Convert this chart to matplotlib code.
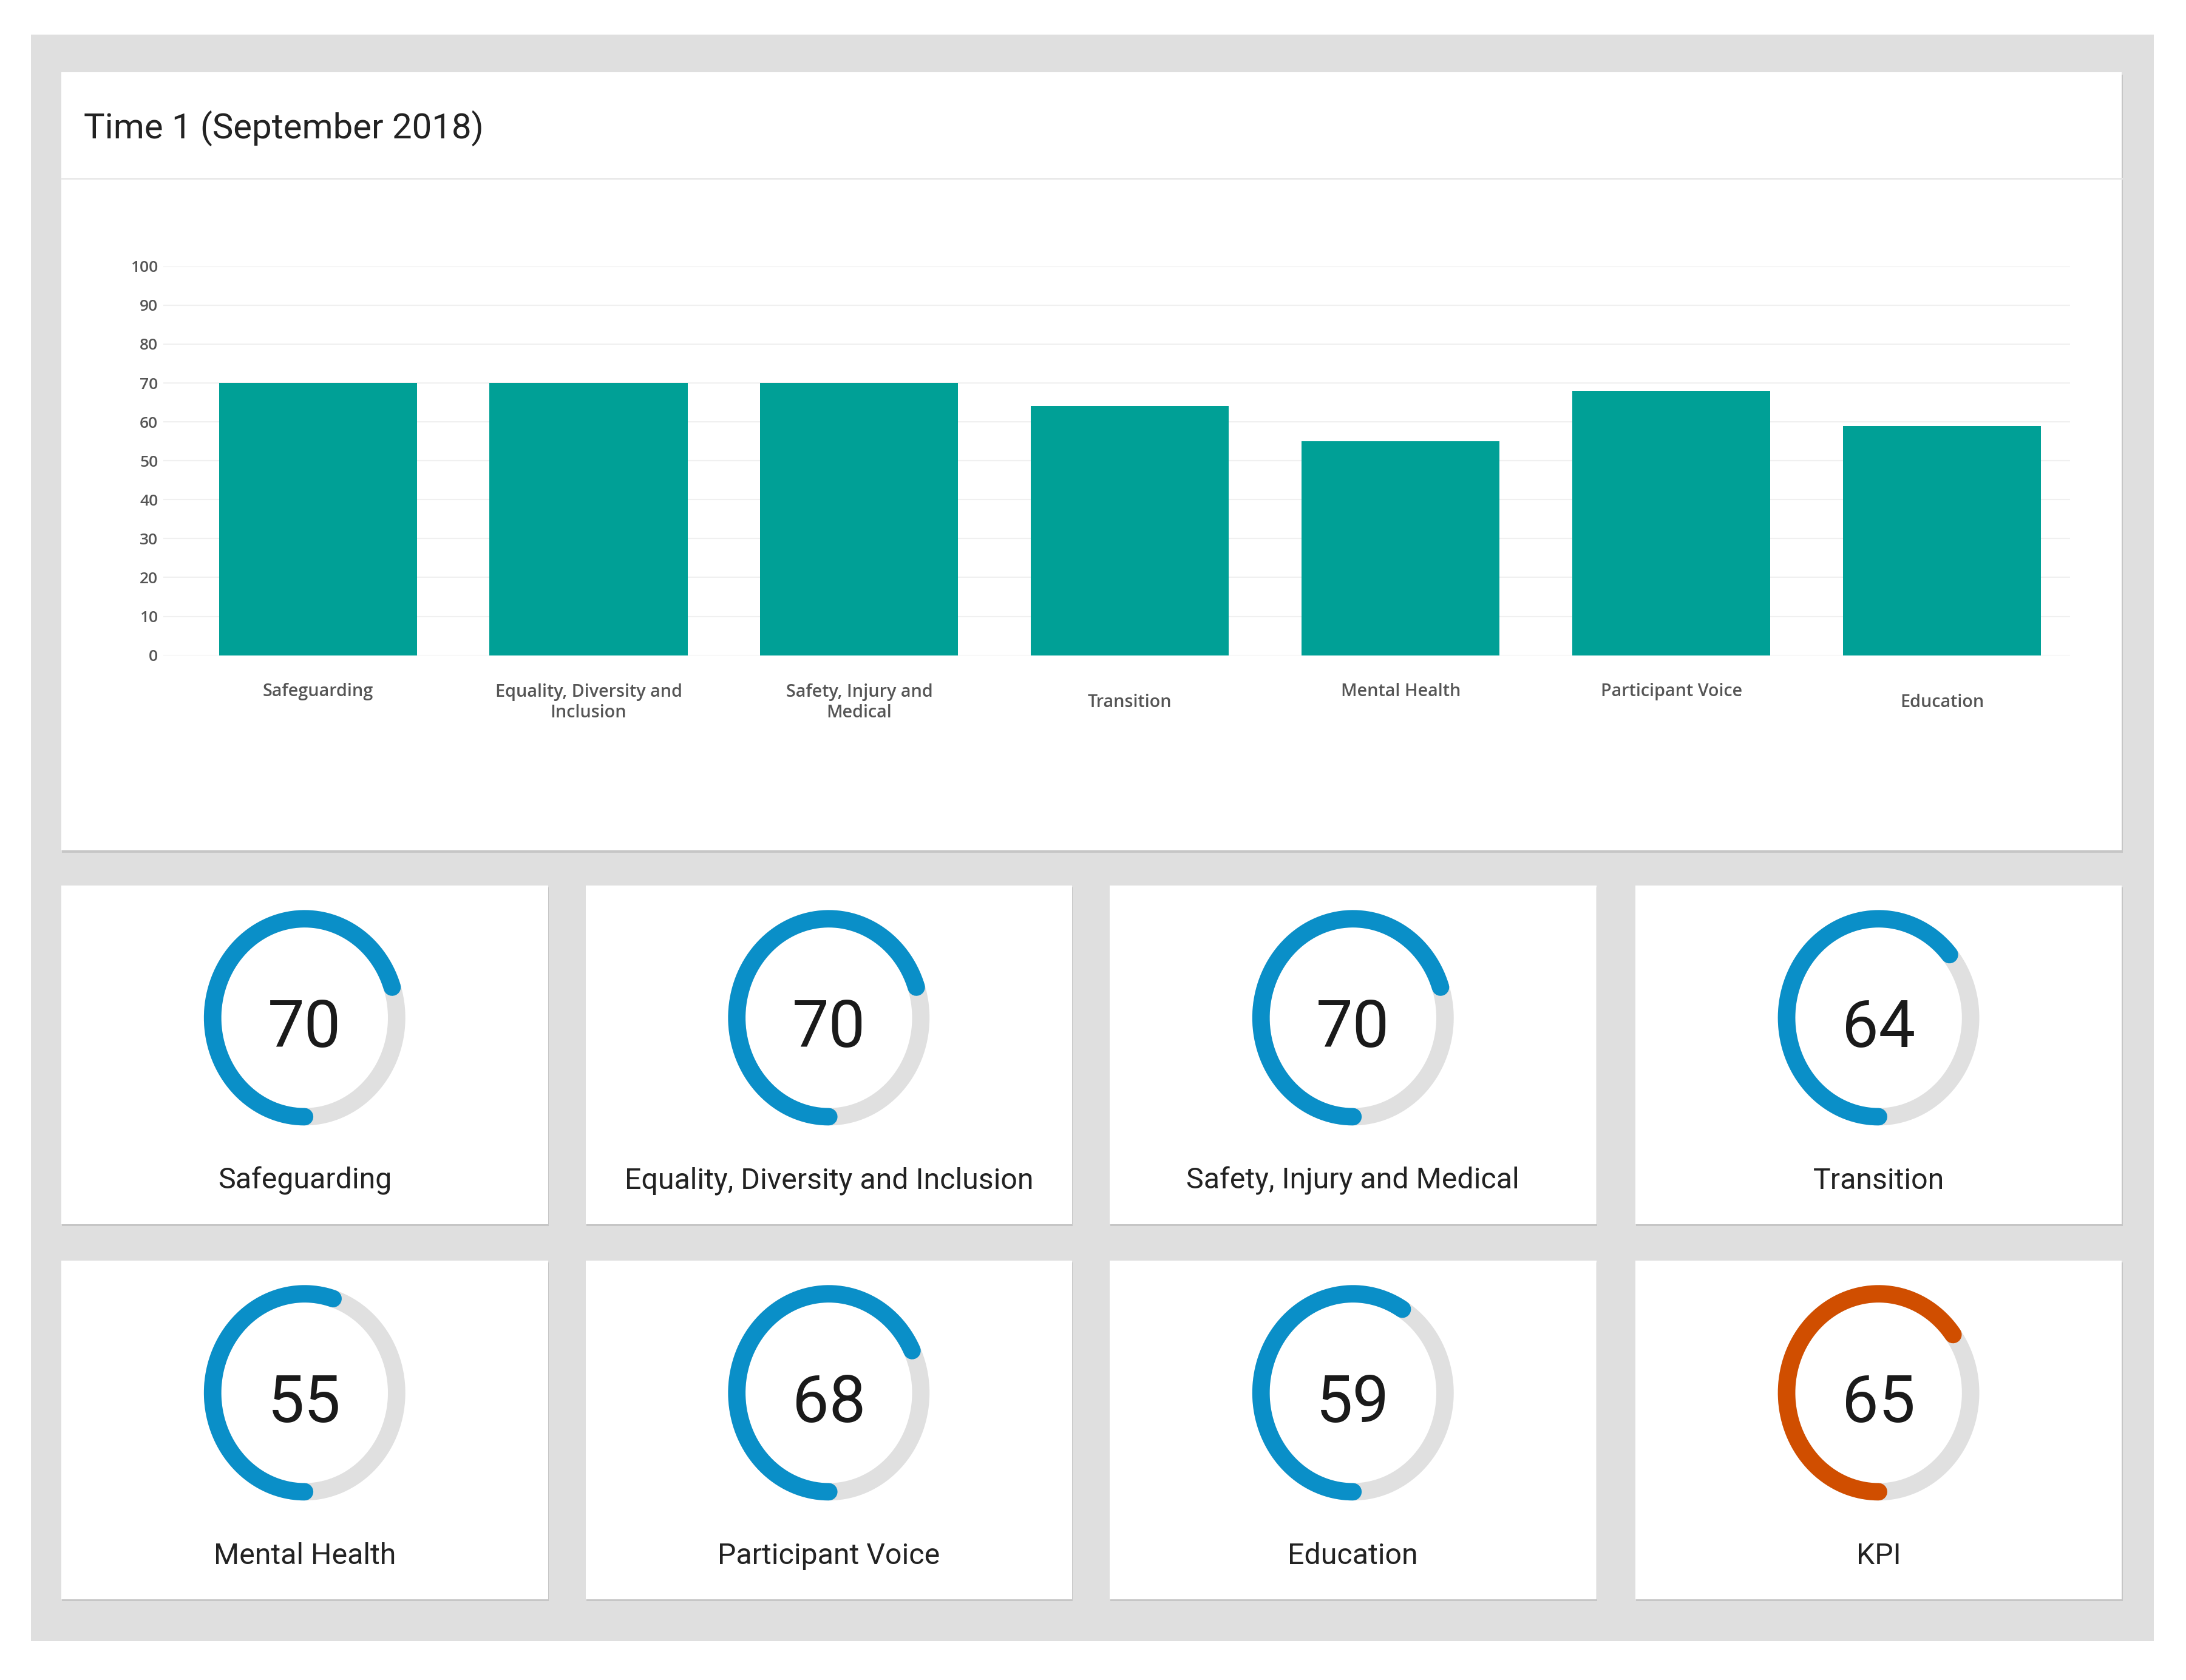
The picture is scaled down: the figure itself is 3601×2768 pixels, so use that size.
import numpy as np
import matplotlib
matplotlib.use("Agg")
import matplotlib.pyplot as plt
from matplotlib.patches import Rectangle
from matplotlib.transforms import blended_transform_factory

# ---------------- data ----------------
title = "Time 1 (September 2018)"
categories = ["Safeguarding", "Equality, Diversity and\nInclusion", "Safety, Injury and\nMedical",
              "Transition", "Mental Health", "Participant Voice", "Education"]
bar_values = [70, 70, 70, 64, 55, 68, 59]
yticks = [0, 10, 20, 30, 40, 50, 60, 70, 80, 90, 100]

gauge_labels = ["Safeguarding", "Equality, Diversity and Inclusion", "Safety, Injury and Medical",
                "Transition", "Mental Health", "Participant Voice", "Education", "KPI"]
gauge_values = [70, 70, 70, 64, 55, 68, 59, 65]

# ---------------- style ----------------
W, H = 1568, 1205          # layout units (reference scaled down)
PT = 3601 / W * 0.72       # layout px -> points
GREY_BG = "#dfdfdf"
TEAL = "#00a096"
BLUE = "#0a8fc8"
ORANGE = "#d04e00"
TRACK = "#e0e0e0"

fig = plt.figure(figsize=(36.01, 27.68), dpi=100)
fig.patch.set_facecolor("white")

bg = fig.add_axes([0, 0, 1, 1])
bg.set_xlim(0, W)
bg.set_ylim(H, 0)
bg.axis("off")

def card(x0, y0, x1, y1):
    bg.add_patch(Rectangle((x0 + 0.5, y0 + 1.5), x1 - x0, y1 - y0, facecolor="#c6c6c6",
                           edgecolor="none", zorder=1))
    bg.add_patch(Rectangle((x0, y0), x1 - x0, y1 - y0, facecolor="white",
                           edgecolor="none", zorder=2))

# grey dashboard background
bg.add_patch(Rectangle((22, 25), 1545 - 22, 1177 - 25, facecolor=GREY_BG, edgecolor="none", zorder=0))

# top card with bar chart
card(44, 52, 1522, 610)
bg.plot([44, 1522], [128, 128], color="#e8e8e8", lw=2, zorder=3)
bg.text(60, 92, title, fontsize=25.3 * PT, family="Roboto", color="#222222",
        va="center", ha="left", zorder=4)

# bar chart axes
ax_l, ax_r, ax_t, ax_b = 117, 1485, 191, 470
ax = fig.add_axes([ax_l / W, 1 - ax_b / H, (ax_r - ax_l) / W, (ax_b - ax_t) / H])
ax.set_facecolor("none")
x0_px, x6_px = 228, 1393
unit = (x6_px - x0_px) / 6
ax.set_xlim(-(x0_px - ax_l) / unit, (ax_r - x0_px) / unit)
ax.set_ylim(0, 100)
x = np.arange(len(categories))
ax.bar(x, bar_values, width=142 / unit, color=TEAL, zorder=3)
ax.set_yticks(yticks)
ax.set_yticklabels([str(t) for t in yticks], fontsize=11.5 * PT, family="Open Sans",
                   weight="semibold", color="#555555")
ax.grid(axis="y", color="#f0f0f0", lw=1.5, zorder=0)
ax.tick_params(length=0, pad=6)
ax.set_xticks([])
for s in ax.spines.values():
    s.set_visible(False)

label_y = [496, 504, 504, 504, 496, 496, 504]
trans = blended_transform_factory(ax.transData, ax.transAxes)
for xi, lab, ly in zip(x, categories, label_y):
    ax.text(xi, (ax_b - ly) / (ax_b - ax_t), lab, transform=trans, ha="center", va="center",
            fontsize=12.5 * PT, family="Open Sans", weight="semibold", color="#555555",
            linespacing=1.25, clip_on=False)

# gauge cards
col_x = [(44, 393), (420, 769), (796, 1145), (1173, 1522)]
row_y = [(635, 878), (904, 1147)]
rx, ry = 66, 71
for i, (lab, v) in enumerate(zip(gauge_labels, gauge_values)):
    r, c = divmod(i, 4)
    cx0, cx1 = col_x[c]
    cy0, cy1 = row_y[r]
    card(cx0, cy0, cx1, cy1)
    cx = (cx0 + cx1) / 2
    cy = cy0 + 95
    t = np.radians(np.linspace(-90, -450, 400))
    bg.plot(cx + rx * np.cos(t), cy - ry * np.sin(t), color=TRACK, lw=12.5 * PT,
            solid_capstyle="butt", zorder=3)
    t = np.radians(np.linspace(-90, -90 - 3.6 * v, 300))
    col = ORANGE if lab == "KPI" else BLUE
    bg.plot(cx + rx * np.cos(t), cy - ry * np.sin(t), color=col, lw=12.5 * PT,
            solid_capstyle="round", zorder=4)
    bg.text(cx, cy + 8, str(v), fontsize=47 * PT, family="Roboto", color="#1a1a1a",
            ha="center", va="center", zorder=5)
    bg.text(cx, cy0 + 212, lab, fontsize=21 * PT, family="Roboto", color="#222222",
            ha="center", va="center", zorder=5)

fig.savefig("out.png", dpi=100)
